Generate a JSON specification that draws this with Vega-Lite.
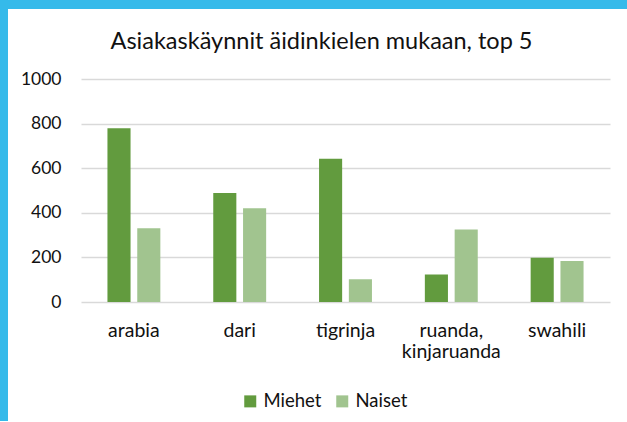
{
  "$schema": "https://vega.github.io/schema/vega-lite/v6.json",
  "background": "white",
  "padding": 0,
  "spacing": 0,
  "config": {
    "view": {"stroke": null},
    "font": "Lato"
  },
  "vconcat": [
    {
      "width": 627,
      "height": 9,
      "data": {"values": []},
      "mark": "point",
      "view": {"fill": "#35BAEA", "stroke": null}
    },
    {
      "spacing": 12,
      "hconcat": [
        {
          "width": 8,
          "height": 412,
          "data": {"values": []},
          "mark": "point",
          "view": {"fill": "#35BAEA", "stroke": null}
        },
        {
          "width": 529,
          "height": 293,
          "title": {
            "text": "Asiakaskäynnit äidinkielen mukaan, top 5",
            "font": "Lato",
            "fontSize": 23.5,
            "fontWeight": "normal",
            "color": "#111111",
            "baseline": "top",
            "offset": -44,
            "anchor": "middle",
            "dx": -24
          },
          "data": {
            "values": [
              {"kieli": "arabia", "sukupuoli": "Miehet", "arvo": 780},
              {"kieli": "arabia", "sukupuoli": "Naiset", "arvo": 331},
              {"kieli": "dari", "sukupuoli": "Miehet", "arvo": 489},
              {"kieli": "dari", "sukupuoli": "Naiset", "arvo": 421},
              {"kieli": "tigrinja", "sukupuoli": "Miehet", "arvo": 643},
              {"kieli": "tigrinja", "sukupuoli": "Naiset", "arvo": 102},
              {"kieli": "ruanda, kinjaruanda", "sukupuoli": "Miehet", "arvo": 123},
              {"kieli": "ruanda, kinjaruanda", "sukupuoli": "Naiset", "arvo": 326},
              {"kieli": "swahili", "sukupuoli": "Miehet", "arvo": 199},
              {"kieli": "swahili", "sukupuoli": "Naiset", "arvo": 184}
            ]
          },
          "mark": {"type": "bar"},
          "encoding": {
            "x": {
              "field": "kieli",
              "type": "nominal",
              "sort": null,
              "title": null,
              "scale": {"paddingInner": 0.5, "paddingOuter": 0.25},
              "axis": {
                "labelAngle": 0,
                "domain": false,
                "ticks": false,
                "grid": false,
                "labelPadding": 19,
                "labelFont": "Lato",
                "labelFontSize": 19.5,
                "labelColor": "#111111",
                "labelLineHeight": 21,
                "labelExpr": "split(datum.label, ' ')"
              }
            },
            "xOffset": {
              "field": "sukupuoli",
              "type": "nominal",
              "sort": ["Miehet", "Naiset"],
              "scale": {"paddingInner": 0.225, "paddingOuter": 0}
            },
            "y": {
              "field": "arvo",
              "type": "quantitative",
              "title": null,
              "scale": {"domain": [0, 1315.7], "nice": false, "zero": true},
              "axis": {
                "values": [0, 200, 400, 600, 800, 1000],
                "format": "d",
                "domain": false,
                "ticks": false,
                "grid": true,
                "gridColor": "#D9D9D9",
                "gridWidth": 1.6,
                "labelPadding": 20,
                "labelFont": "Lato",
                "labelFontSize": 17.5,
                "labelColor": "#111111"
              }
            },
            "color": {
              "field": "sukupuoli",
              "type": "nominal",
              "scale": {"domain": ["Miehet", "Naiset"], "range": ["#629B3E", "#A1C48F"]},
              "legend": {
                "title": null,
                "orient": "none",
                "legendX": 241,
                "legendY": 392,
                "direction": "horizontal",
                "symbolType": "square",
                "symbolSize": 144,
                "symbolStrokeWidth": 0,
                "symbolOpacity": 1,
                "labelFont": "Lato",
                "labelFontSize": 18.5,
                "labelColor": "#111111",
                "labelOffset": 4,
                "columnPadding": 11,
                "padding": 0
              }
            }
          }
        }
      ]
    }
  ]
}
